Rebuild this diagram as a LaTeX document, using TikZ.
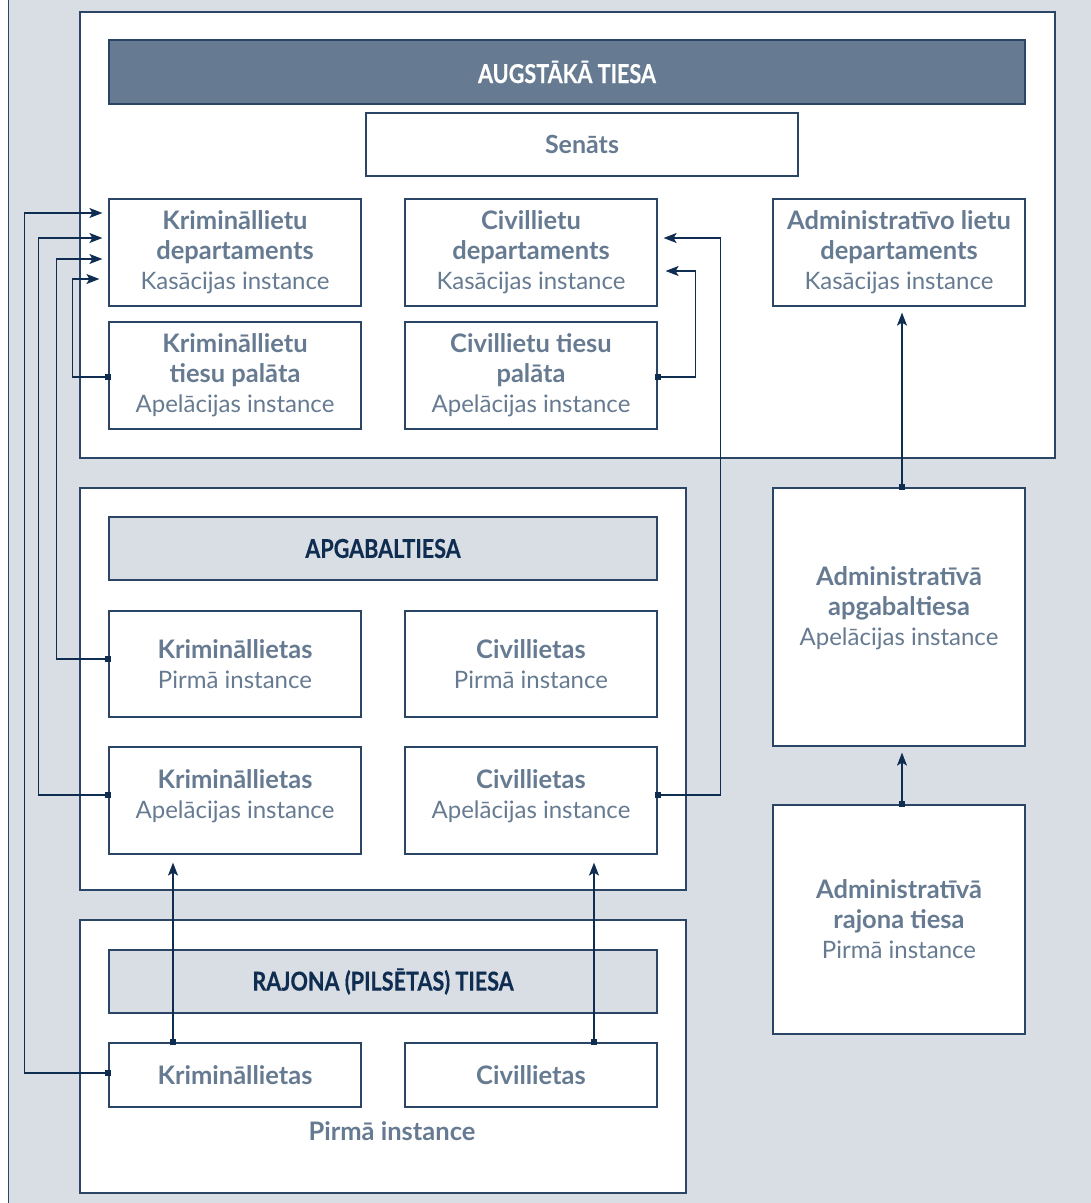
\documentclass[tikz,border=0pt]{standalone}
\usepackage{fontspec}
\setmainfont{Lato}
\newfontfamily\condfont{Lato}[FakeStretch=0.83, UprightFont={* Bold}, FakeBold=0.4]
\usetikzlibrary{arrows.meta,calc}
\definecolor{navy}{HTML}{0F2D50}
\definecolor{slate}{HTML}{667B91}
\definecolor{bggray}{HTML}{D9DEE5}
\definecolor{edge}{HTML}{2A4566}
\newcommand\boldln[1]{{\fontsize{25.5}{30}\selectfont\bfseries #1}}
\begin{document}
\begin{tikzpicture}[x=1pt,y=-1pt,
 box/.style={draw=edge, line width=1.2pt, fill=white, rectangle, inner sep=2pt, align=center, text=slate, font=\fontsize{24}{30}\selectfont, minimum width=252pt, minimum height=107pt},
 boxtext/.style={align=center, text=slate, font=\fontsize{24}{30}\selectfont, inner sep=0pt},
 container/.style={draw=edge, line width=1.2pt, fill=white, rectangle, inner sep=0pt},
 head/.style={draw=edge, line width=1.2pt, rectangle, align=center, font=\condfont\fontsize{26}{28}\selectfont, minimum height=63pt},
 conn/.style={draw=navy, line width=1.3pt, {Square[length=6pt,width=6pt]}-{Stealth[length=13pt,width=10pt,inset=3pt]}, shorten <=-3pt, shorten >=6pt},
]
\useasboundingbox (0,0) rectangle (1091,1203);
\fill[white] (0,0) rectangle (1091,1203);
\draw[edge, fill=bggray, line width=1.2pt] (8.5,-10) rectangle (1110,1215);

% containers
\node[container, minimum width=975pt, minimum height=446pt] (sup) at (567.5,235) {};
\node[container, minimum width=606pt, minimum height=402pt] (apg) at (383,689) {};
\node[container, minimum width=606pt, minimum height=273pt] (raj) at (383,1056.5) {};

% headers
\node[head, fill=slate, text=white, minimum width=916pt, minimum height=64pt] (h1) at (567,72) {AUGSTĀKĀ TIESA};
\node[box, minimum width=432pt, minimum height=63pt, font=\bfseries\fontsize{25}{28}\selectfont] (sen) at (582,144.5) {Senāts};
\node[head, fill=bggray, text=navy, minimum width=548pt] (h2) at (383,548.5) {APGABALTIESA};
\node[head, fill=bggray, text=navy, minimum width=548pt] (h3) at (383,981.5) {RAJONA (PILSĒTAS) TIESA};

% Augstākā tiesa boxes
\node[box] (kd) at (235,252.5) {\boldln{Krimināllietu}\\\boldln{departaments}\\Kasācijas instance};
\node[box] (cd) at (531,252.5) {\boldln{Civillietu}\\\boldln{departaments}\\Kasācijas instance};
\node[box] (ad) at (899,252.5) {\boldln{Administratīvo lietu}\\\boldln{departaments}\\Kasācijas instance};
\node[box] (kp) at (235,375.5) {\boldln{Krimināllietu}\\\boldln{tiesu palāta}\\Apelācijas instance};
\node[box] (cp) at (531,375.5) {\boldln{Civillietu tiesu}\\\boldln{palāta}\\Apelācijas instance};

% Apgabaltiesa boxes
\node[box, minimum height=106pt] (kpi) at (235,664) {\boldln{Krimināllietas}\\Pirmā instance};
\node[box, minimum height=106pt] (cpi) at (531,664) {\boldln{Civillietas}\\Pirmā instance};
\node[box] (ka) at (235,800.5) {};
\node[boxtext] (kat) at ($(ka.center)+(0,-4)$) {\boldln{Krimināllietas}\\Apelācijas instance};
\node[box] (ca) at (531,800.5) {};
\node[boxtext] (cat) at ($(ca.center)+(0,-4)$) {\boldln{Civillietas}\\Apelācijas instance};

% Administrative
\node[box, minimum height=258pt] (aa) at (899,617) {};
\node[boxtext] (aat) at ($(aa.center)+(0,-9)$) {\boldln{Administratīvā}\\\boldln{apgabaltiesa}\\Apelācijas instance};
\node[box, minimum height=229pt] (ar) at (899,919.5) {\boldln{Administratīvā}\\\boldln{rajona tiesa}\\Pirmā instance};

% Rajona boxes
\node[box, minimum height=64pt] (kr) at (235,1075) {\boldln{Krimināllietas}};
\node[box, minimum height=64pt] (cr) at (531,1075) {\boldln{Civillietas}};
\node[text=slate, font=\bfseries\fontsize{25.5}{28}\selectfont] (pi) at (392,1131) {Pirmā instance};

% connectors
\draw[conn] ($(kr.west)+(0,-2)$) -- ++(-84,0) |- ($(kd.west)+(0,-39.5)$);
\draw[conn] ($(ka.west)+(0,-5.5)$) -- ++(-70,0) |- ($(kd.west)+(0,-14.5)$);
\draw[conn] ($(kpi.west)+(0,-5)$) -- ++(-52,0) |- ($(kd.west)+(0,6.5)$);
\draw[conn, shorten >=9pt] ($(kp.west)+(0,1.5)$) -- ++(-36,0) |- ($(kd.west)+(0,26.5)$);
\draw[conn, shorten >=8pt] ($(cp.east)+(0,1.5)$) -- ++(38,0) |- ($(cd.east)+(0,18.5)$);
\draw[conn] ($(ca.east)+(0,-5.5)$) -- ++(63,0) |- ($(cd.east)+(0,-14.5)$);
\draw[conn, shorten >=8pt] ($(kr.north)+(-62,0)$) -- ($(ka.south)+(-62,0)$);
\draw[conn, shorten >=8pt] ($(cr.north)+(63,0)$) -- ($(ca.south)+(63,0)$);
\draw[conn] ($(aa.north)+(3,0)$) -- ($(ad.south)+(3,0)$);
\draw[conn] ($(ar.north)+(3,0)$) -- ($(aa.south)+(3,0)$);
\end{tikzpicture}
\end{document}
